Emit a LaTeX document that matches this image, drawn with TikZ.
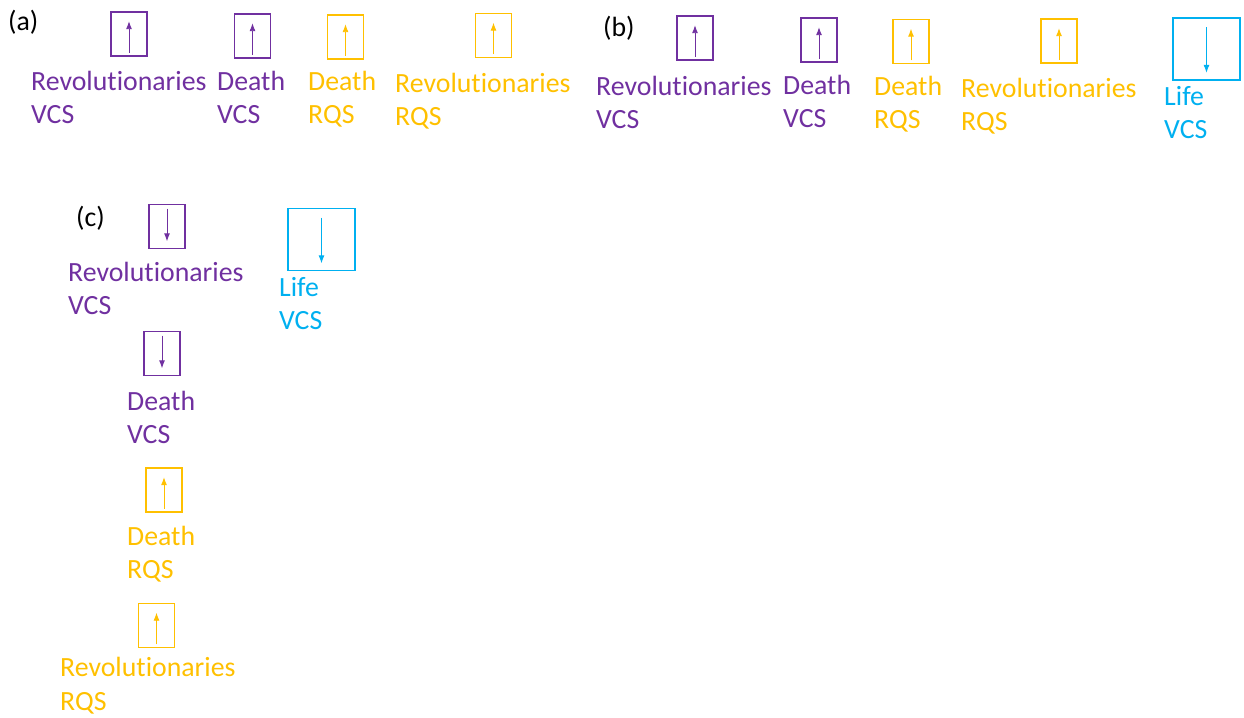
\documentclass[tikz,border=0pt]{standalone}
\usepackage{fontspec}
\setmainfont{Carlito}[RawFeature=-liga]
\usetikzlibrary{arrows.meta}
\definecolor{vcs}{HTML}{7030A0}
\definecolor{rqs}{HTML}{FFC000}
\definecolor{life}{HTML}{00B0F0}

\begin{document}
\begin{tikzpicture}[x=1pt,y=-1pt, >={Latex[length=8pt,width=6pt]},
  every node/.style={font=\fontsize{27.8}{33.5}\selectfont},
  cell/.style={draw,line width=1.6pt,minimum width=36pt,minimum height=44pt,inner sep=0pt},
  bigcell/.style={cell,minimum width=67pt,minimum height=62pt},
  lab/.style={anchor=base west,align=left,inner sep=0pt},
  up/.style={->,line width=.9pt,shorten <=4pt,shorten >=10pt},
  down/.style={->,line width=.9pt,shorten <=8pt,shorten >=8pt}]
  \useasboundingbox (0,0) rectangle (1244,717);

  % (a)  -- label anchors sit on the baseline of the second line
  \node[lab] (ta) at (8,31) {(a)};
  \node[cell,vcs] (a1) at (129,34) {};
  \node[cell,vcs] (a2) at (252.5,36) {};
  \node[cell,rqs] (a3) at (345.5,37) {};
  \node[cell,rqs] (a4) at (493.5,35.5) {};
  \draw[up,vcs] (a1.south) -- (a1.north);
  \draw[up,vcs] (a2.south) -- (a2.north);
  \draw[up,rqs] (a3.south) -- (a3.north);
  \draw[up,rqs] (a4.south) -- (a4.north);
  \node[lab,vcs] (la1) at (31,123.5) {Revolutionaries\\VCS};
  \node[lab,vcs] (la2) at (217,123.5) {Death\\VCS};
  \node[lab,rqs] (la3) at (308,123.5) {Death\\RQS};
  \node[lab,rqs] (la4) at (395,125.5) {Revolutionaries\\RQS};

  % (b)
  \node[lab] (tb) at (603,37) {(b)};
  \node[cell,vcs] (b1) at (695,38) {};
  \node[cell,vcs] (b2) at (819,40) {};
  \node[cell,rqs] (b3) at (911,41.5) {};
  \node[cell,rqs] (b4) at (1059,41) {};
  \node[bigcell,life] (b5) at (1206.5,49) {};
  \draw[up,vcs] (b1.south) -- (b1.north);
  \draw[up,vcs] (b2.south) -- (b2.north);
  \draw[up,rqs] (b3.south) -- (b3.north);
  \draw[up,rqs] (b4.south) -- (b4.north);
  \draw[down,life,shorten <=10pt] (b5.north) -- (b5.south);
  \node[lab,vcs] (lb1) at (596,128.5) {Revolutionaries\\VCS};
  \node[lab,vcs] (lb2) at (783,127.5) {Death\\VCS};
  \node[lab,rqs] (lb3) at (874,128.5) {Death\\RQS};
  \node[lab,rqs] (lb4) at (961,130.5) {Revolutionaries\\RQS};
  \node[lab,life] (lb5) at (1164,138.5) {Life\\VCS};

  % (c)
  \node[lab] (tc) at (76,226) {(c)};
  \node[cell,vcs] (c1) at (167,226.5) {};
  \node[bigcell,life] (c2) at (321.5,239.5) {};
  \node[cell,vcs] (c3) at (162,353.5) {};
  \node[cell,rqs] (c4) at (164,490) {};
  \node[cell,rqs] (c5) at (156.5,625.5) {};
  \draw[down,vcs,shorten <=5pt] (c1.north) -- (c1.south);
  \draw[down,life,shorten <=10pt] (c2.north) -- (c2.south);
  \draw[down,vcs,shorten <=5pt] (c3.north) -- (c3.south);
  \draw[up,rqs] (c4.south) -- (c4.north);
  \draw[up,rqs] (c5.south) -- (c5.north);
  \node[lab,vcs] (lc1) at (68,314.5) {Revolutionaries\\VCS};
  \node[lab,life] (lc2) at (279,329.5) {Life\\VCS};
  \node[lab,vcs] (lc3) at (127,443.5) {Death\\VCS};
  \node[lab,rqs] (lc4) at (127,578.5) {Death\\RQS};
  \node[lab,rqs] (lc5) at (60,710) {Revolutionaries\\RQS};
\end{tikzpicture}
\end{document}
